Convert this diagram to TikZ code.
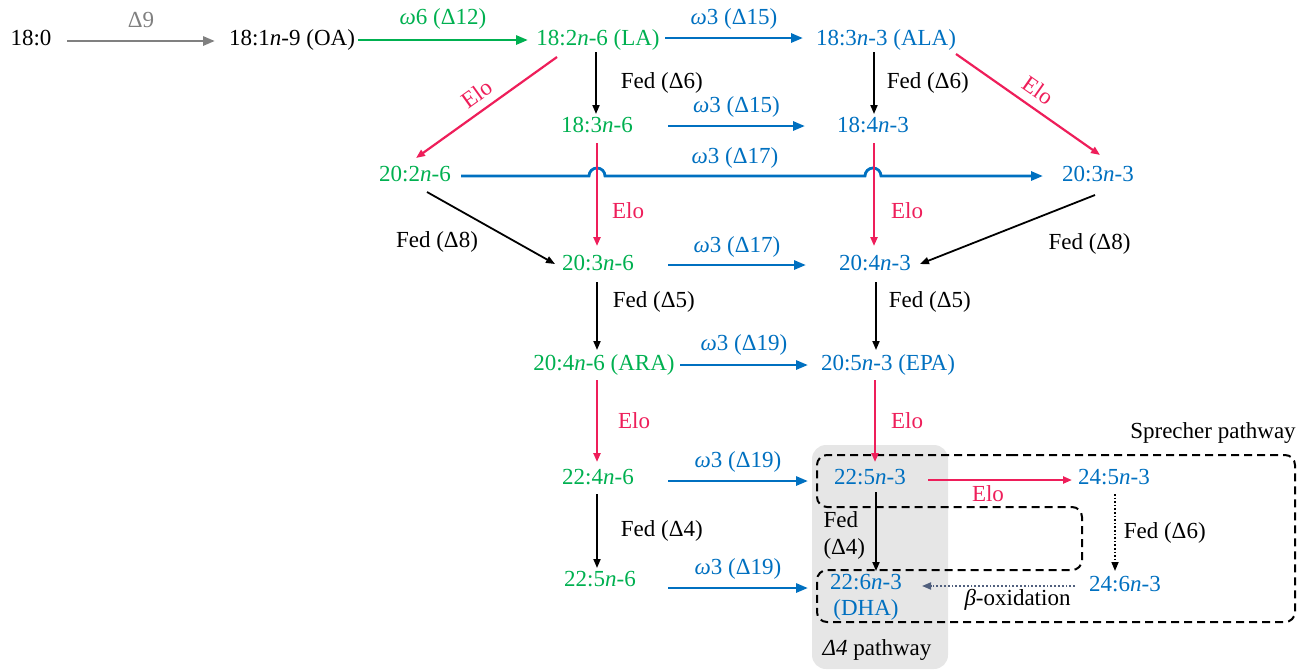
\documentclass[tikz,border=0pt]{standalone}
\usepackage{fontspec}
\setmainfont{LiberationSerif}[Extension=.ttf, UprightFont=*-Regular, ItalicFont=*-Italic, BoldFont=*-Bold, BoldItalicFont=*-BoldItalic]
\usetikzlibrary{arrows.meta,calc}
\definecolor{cgreen}{RGB}{0,176,80}
\definecolor{cblue}{RGB}{0,112,192}
\definecolor{cred}{RGB}{238,30,90}
\definecolor{cgray}{RGB}{128,128,128}
\definecolor{cslate}{RGB}{80,95,125}
\definecolor{boxgray}{RGB}{230,230,230}
\begin{document}
\begin{tikzpicture}[x=1pt,y=-1pt,
  every node/.style={font=\fontsize{23}{27}\selectfont, inner sep=0pt},
  txt/.style={text height=16pt, text depth=5pt},
  gn/.style={txt,text=cgreen}, bn/.style={txt,text=cblue}, kn/.style={txt,text=black},
  bigtip/.style={-{Triangle[length=12pt,width=9pt]}},
  smalltip/.style={-{Triangle[length=9pt,width=7pt]}},
  grayarr/.style={draw=cgray,line width=2.8pt,bigtip},
  greenarr/.style={draw=cgreen,line width=2.8pt,bigtip},
  bluearr/.style={draw=cblue,line width=2.8pt,bigtip},
  redarr/.style={draw=cred,line width=2.2pt,smalltip},
  fedarr/.style={draw=black,line width=1.8pt,smalltip},
  dotarr/.style={draw=black,line width=1.6pt,dotted,smalltip},
  betaarr/.style={draw=cslate,line width=1.8pt,dotted,smalltip},
  dashbox/.style={draw=black,line width=2pt,dash pattern=on 8pt off 5pt},
  redlbl/.style={text=cred},
  bluelbl/.style={text=cblue},
]
\useasboundingbox (0,0) rectangle (1297,670);

% background regions
\fill[boxgray, rounded corners=14pt] (812,445) rectangle (948,669);
\draw[dashbox, rounded corners=10pt] (1000,455) -- (1295,455) -- (1295,622) -- (817,622) -- (817,570) -- (1082,570) -- (1082,507) -- (817,507) -- (817,455) -- cycle;
\node[kn] (sprecher) at (1213,433) {Sprecher pathway};
\node[kn] (d4path) at (877,650) {\textit{Δ4} pathway};

% nodes
\node[kn] (n180) at (31,40) {18:0};
\node[kn] (oa) at (292,40) {18:1\textit{n}-9 (OA)};
\node[gn] (la) at (598,40) {18:2\textit{n}-6 (LA)};
\node[bn] (ala) at (886,40) {18:3\textit{n}-3 (ALA)};
\node[gn] (t36) at (597,127) {18:3\textit{n}-6};
\node[bn] (t43) at (873,127) {18:4\textit{n}-3};
\node[gn] (t26) at (415,176) {20:2\textit{n}-6};
\node[bn] (t33) at (1098,176) {20:3\textit{n}-3};
\node[gn] (u36) at (598,265) {20:3\textit{n}-6};
\node[bn] (u43) at (875,265) {20:4\textit{n}-3};
\node[gn] (ara) at (604,365) {20:4\textit{n}-6 (ARA)};
\node[bn] (epa) at (888,365) {20:5\textit{n}-3 (EPA)};
\node[gn] (v46) at (598,479) {22:4\textit{n}-6};
\node[bn] (v53) at (870,479) {22:5\textit{n}-3};
\node[bn] (w53) at (1114,479) {24:5\textit{n}-3};
\node[gn] (v56) at (600,581) {22:5\textit{n}-6};
\node[bn] (dha) at (866,584) {22:6\textit{n}-3};
\node[bn] (dhal) at (866,610) {(DHA)};
\node[bn] (w63) at (1125,586) {24:6\textit{n}-3};

% hop points
\coordinate (h1) at (t36.center |- t26.center);
\coordinate (h2) at (t43.center |- t26.center);

% top row
\draw[grayarr] ([shift={(36,1)}]n180.center) -- ([shift={(-77,1)}]oa.center)
  node[midway, yshift=21pt, text=cgray] {Δ9};
\draw[greenarr] ([shift={(66,0)}]oa.center) -- ([shift={(-70,0)}]la.center)
  node[midway, yshift=21pt, text=cgreen] {\textit{ω}6 (Δ12)};
\draw[bluearr] ([shift={(67,-2)}]la.center) -- ([shift={(-83,-2)}]ala.center)
  node[midway, yshift=19pt, bluelbl] {\textit{ω}3 (Δ15)};

% first Fed
\draw[fedarr] ([shift={(-2,12)}]la.center) -- ([shift={(-1,-13)}]t36.center)
  node[midway, right=24pt] {Fed (Δ6)};
\draw[fedarr] ([shift={(-12,12)}]ala.center) -- ([shift={(1,-13)}]t43.center)
  node[midway, right=12pt] {Fed (Δ6)};
\draw[bluearr] ([shift={(71,-1)}]t36.center) -- ([shift={(-68,-1)}]t43.center)
  node[midway, yshift=19pt, bluelbl] {\textit{ω}3 (Δ15)};

% Elo diagonals
\draw[redarr] ([shift={(-41,17)}]la.center) -- ([shift={(1,-18)}]t26.center)
  node[midway, sloped, above=8pt, redlbl] {Elo};
\draw[redarr] ([shift={(70,14)}]ala.center) -- ([shift={(2,-21)}]t33.center)
  node[pos=0.5, sloped, above=8pt, redlbl] {Elo};

% omega3 delta17 with hops
\draw[draw=cblue, line width=2.8pt, bigtip] ([shift={(46,0)}]t26.center) -- ([xshift=-8pt]h1)
  arc[start angle=180, end angle=0, radius=8pt] -- ([xshift=-8pt]h2)
  arc[start angle=180, end angle=0, radius=8pt] -- ([shift={(-55,0)}]t33.center);
\node[bluelbl] (l17a) at ($(h1)!0.5!(h2)+(0,-18)$) {\textit{ω}3 (Δ17)};

% Elo verticals 18 -> 20
\draw[redarr] ([shift={(0,16)}]t36.center) -- ([shift={(-1,-19)}]u36.center)
  node[pos=0.66, right=14pt, redlbl] {Elo};
\draw[redarr] ([shift={(1,16)}]t43.center) -- ([shift={(-1,-19)}]u43.center)
  node[pos=0.66, right=16pt, redlbl] {Elo};

% Fed delta8
\draw[fedarr] ([shift={(12,16)}]t26.center) -- ([shift={(-43,-1)}]u36.center)
  node[midway, xshift=-54pt, yshift=-14pt] {Fed (Δ8)};
\draw[fedarr] ([shift={(-3,19)}]t33.center) -- ([shift={(45,-1)}]u43.center)
  node[midway, xshift=82pt, yshift=-14pt] {Fed (Δ8)};

\draw[bluearr] ([shift={(70,0)}]u36.center) -- ([shift={(-69,0)}]u43.center)
  node[midway, yshift=18pt, bluelbl] {\textit{ω}3 (Δ17)};

% Fed delta5
\draw[fedarr] ([shift={(-1,17)}]u36.center) -- ([shift={(-7,-15)}]ara.center)
  node[pos=0.3, right=15pt] {Fed (Δ5)};
\draw[fedarr] ([shift={(1,17)}]u43.center) -- ([shift={(-12,-15)}]epa.center)
  node[pos=0.3, right=12pt] {Fed (Δ5)};
\draw[bluearr] ([shift={(76,0)}]ara.center) -- ([shift={(-80,0)}]epa.center)
  node[midway, yshift=20pt, bluelbl] {\textit{ω}3 (Δ19)};

% Elo 20 -> 22
\draw[redarr] ([shift={(-7,15)}]ara.center) -- ([shift={(-1,-17)}]v46.center)
  node[midway, right=20pt, redlbl] {Elo};
\draw[redarr] ([shift={(-13,15)}]epa.center) -- ([shift={(5,-17)}]v53.center)
  node[midway, right=15pt, redlbl] {Elo};

\draw[bluearr] ([shift={(70,2)}]v46.center) -- ([shift={(-62,2)}]v53.center)
  node[midway, yshift=19pt, bluelbl] {\textit{ω}3 (Δ19)};
\draw[fedarr] ([shift={(-1,15)}]v46.center) -- ([shift={(-3,-13)}]v56.center)
  node[midway, right=23pt] {Fed (Δ4)};
\draw[bluearr] ([shift={(68,7)}]v56.center) -- ([shift={(-58,4)}]dha.center)
  node[midway, yshift=19pt, bluelbl] {\textit{ω}3 (Δ19)};

% Sprecher / delta4 part
\draw[redarr] ([shift={(58,1)}]v53.center) -- ([shift={(-42,1)}]w53.center)
  node[midway, xshift=-12pt, yshift=-14pt, redlbl] {Elo};
\draw[fedarr] ([shift={(6,13)}]v53.center) -- ([shift={(10,-13)}]dha.center)
  node[midway, left=10pt, yshift=-4pt, align=left] {Fed\\(Δ4)};
\draw[dotarr] ([shift={(1,15)}]w53.center) -- ([shift={(-10,-15)}]w63.center)
  node[midway, right=8pt] {Fed (Δ6)};
\draw[betaarr] ([shift={(-50,0)}]w63.center) -- ([shift={(56,2)}]dha.center)
  node[midway, xshift=19pt, yshift=-14pt, text=black] {\textit{β}-oxidation};
\end{tikzpicture}
\end{document}
